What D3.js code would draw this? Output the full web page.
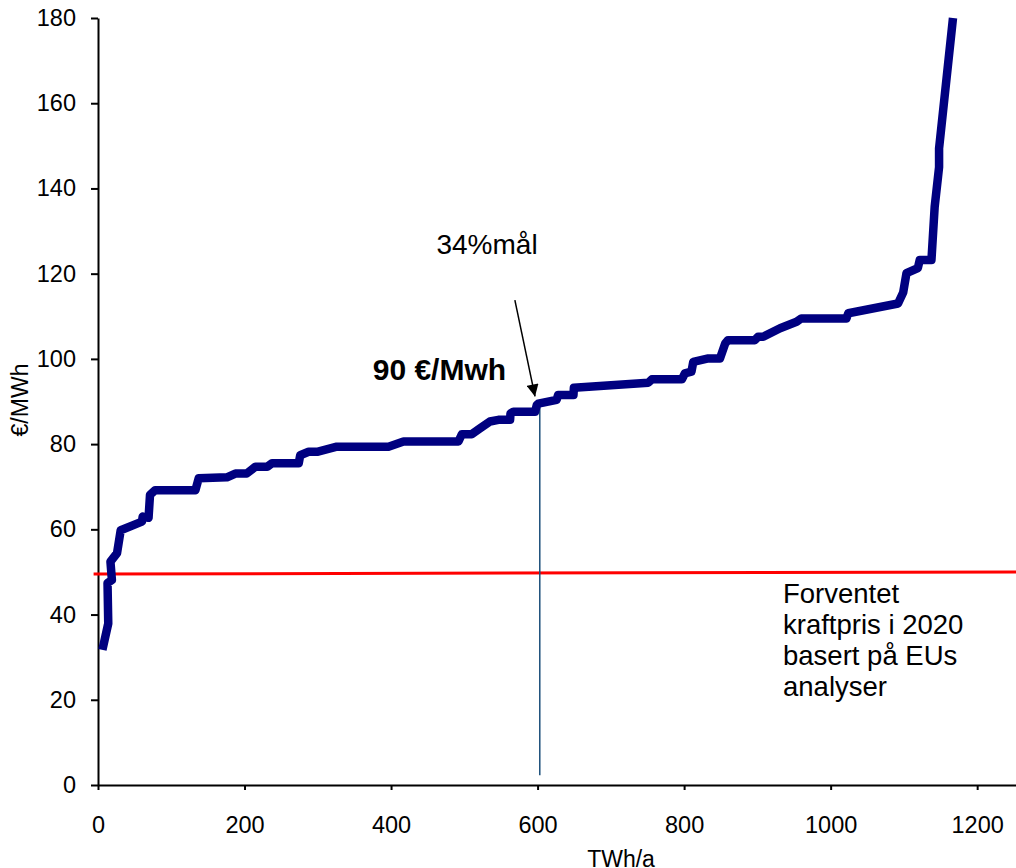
<!DOCTYPE html>
<html>
<head>
<meta charset="utf-8">
<script src="https://cdn.jsdelivr.net/npm/d3@7"></script>
<style>
  body { margin: 0; background: #fff; }
  svg text { font-family: "Liberation Sans", Arial, sans-serif; fill: #000; }
  .axis path, .axis line { stroke: #000; stroke-width: 2; }
  .axis text { font-size: 23.5px; }
</style>
</head>
<body>
<svg id="chart" width="1016" height="868"></svg>
<script>
// Supply curve (TWh/a vs €/MWh)
const supplyX = [6, 14, 13, 19, 17, 26, 31, 60, 61, 69, 71, 78, 133, 137.5, 176, 187.5, 203, 215, 231, 237.5,
  274, 276, 287.5, 299, 326, 396.5, 417, 492, 496.6, 510, 521.6, 535, 546.5, 562.5, 563, 567, 596.6, 599,
  601, 626, 628, 649, 649.5, 751, 756, 797, 801, 810, 812.5, 833, 849, 856, 860, 896.6, 901, 908, 931,
  953.5, 960, 1021.6, 1024, 1092, 1099, 1103.5, 1119, 1121.6, 1137.6, 1142, 1146.6, 1148, 1148, 1167];
const supplyY = [31.7, 37.9, 47.4, 48.1, 52.4, 54.4, 59.8, 61.8, 63, 62.7, 68.1, 69.2, 69.2, 72, 72.2, 73.1, 73.1, 74.7, 74.7, 75.5,
  75.5, 77.4, 78.2, 78.2, 79.4, 79.4, 80.6, 80.6, 82.3, 82.3, 83.7, 85.3, 85.7, 85.7, 87.2, 87.6, 87.6, 89.2,
  89.5, 90.4, 91.5, 91.5, 93.2, 94.4, 95.2, 95.2, 96.6, 97, 99.3, 100.1, 100.1, 103.6, 104.4, 104.4, 105.2, 105.2, 107.2,
  108.7, 109.5, 109.5, 110.7, 113, 115.6, 120.1, 121.3, 123.2, 123.2, 135.7, 142.8, 145, 149.4, 180];

// Expected power price 2020 (red line)
const priceX = [-6, 1253];
const priceY = [49.5, 50];

// 34% target marker
const targetX = [603, 603];
const targetY = [2.3, 89];
const arrowX = [569, 596.5];
const arrowY = [113.8, 91.2];

const xTicks = [0, 200, 400, 600, 800, 1000, 1200];
const yTicks = [0, 20, 40, 60, 80, 100, 120, 140, 160, 180];

const noteLines = ['Forventet', 'kraftpris i 2020', 'basert på EUs', 'analyser'];

const svg = d3.select('#chart');
const margin = { top: 18, right: 0, bottom: 83, left: 98 };
const width = 1016 - margin.left - margin.right;
const height = 868 - margin.top - margin.bottom;

const x = d3.scaleLinear().domain([0, 1253]).range([0, width]);
const y = d3.scaleLinear().domain([0, 180]).range([height, 0]);

const chart = svg.append('g')
  .attr('transform', `translate(${margin.left},${margin.top})`);

svg.append('defs').append('marker')
  .attr('id', 'arrowhead')
  .attr('viewBox', '0 0 10 10')
  .attr('refX', 10).attr('refY', 5)
  .attr('markerWidth', 9).attr('markerHeight', 8)
  .attr('markerUnits', 'strokeWidth')
  .attr('orient', 'auto')
  .append('path')
  .attr('d', 'M0,0 L10,5 L0,10 Z')
  .attr('fill', '#000');

// Axes
chart.append('g')
  .attr('class', 'axis')
  .call(d3.axisLeft(y).tickValues(yTicks).tickSize(7).tickSizeOuter(0).tickPadding(15));

chart.append('g')
  .attr('class', 'axis')
  .attr('transform', `translate(0,${height})`)
  .call(d3.axisBottom(x).tickValues(xTicks).tickFormat(d3.format('d'))
    .tickSize(5).tickSizeOuter(0).tickPadding(26));

// Red price line
chart.append('line')
  .attr('x1', x(priceX[0])).attr('y1', y(priceY[0]))
  .attr('x2', x(priceX[1])).attr('y2', y(priceY[1]))
  .attr('stroke', '#ff0000')
  .attr('stroke-width', 3);

// Vertical target line
chart.append('line')
  .attr('x1', x(targetX[0])).attr('y1', y(targetY[0]))
  .attr('x2', x(targetX[1])).attr('y2', y(targetY[1]))
  .attr('stroke', '#1b4f7a')
  .attr('stroke-width', 1.5);

// Supply curve
const line = d3.line()
  .x((d) => x(d[0]))
  .y((d) => y(d[1]));

chart.append('path')
  .datum(supplyX.map((v, i) => [v, supplyY[i]]))
  .attr('d', line)
  .attr('fill', 'none')
  .attr('stroke', '#000080')
  .attr('stroke-width', 8.5)
  .attr('stroke-linejoin', 'round')
  .attr('stroke-linecap', 'butt');

// Arrow
chart.append('line')
  .attr('x1', x(arrowX[0])).attr('y1', y(arrowY[0]))
  .attr('x2', x(arrowX[1])).attr('y2', y(arrowY[1]))
  .attr('stroke', '#000')
  .attr('stroke-width', 1.5)
  .attr('marker-end', 'url(#arrowhead)');

// Annotations
chart.append('text')
  .attr('x', x(462)).attr('y', y(124.6))
  .style('font-size', '28px')
  .text('34%mål');

chart.append('text')
  .attr('x', x(375)).attr('y', y(95))
  .style('font-size', '30px')
  .style('font-weight', 'bold')
  .text('90 €/Mwh');

chart.append('text')
  .attr('x', x(935)).attr('y', y(42.8))
  .style('font-size', '27.5px')
  .selectAll('tspan')
  .data(noteLines)
  .join('tspan')
  .attr('x', x(935))
  .attr('dy', (d, i) => (i === 0 ? 0 : 31))
  .text((d) => d);

// Axis labels
svg.append('text')
  .attr('transform', `translate(28, 400) rotate(-90)`)
  .style('text-anchor', 'middle')
  .style('font-size', '23px')
  .text('€/MWh');

svg.append('text')
  .attr('x', 621).attr('y', 867)
  .style('text-anchor', 'middle')
  .style('font-size', '23px')
  .text('TWh/a');
</script>
</body>
</html>
